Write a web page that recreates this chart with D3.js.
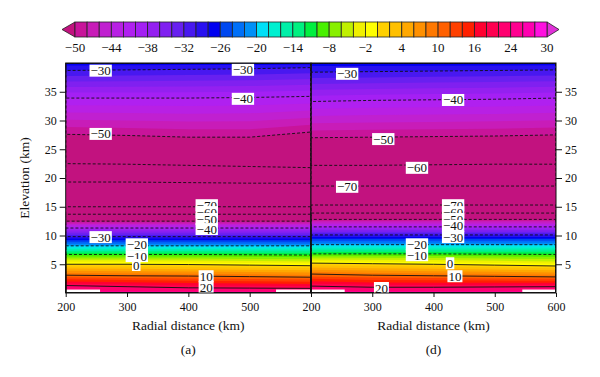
<!DOCTYPE html>
<html>
<head>
<meta charset="utf-8">
<script src="https://cdn.jsdelivr.net/npm/d3@7"></script>
<style>
  body { margin: 0; background: #fff; }
  text { font-family: "Liberation Serif", "DejaVu Serif", serif; fill: #111; }
</style>
</head>
<body>
<div id="chart"></div>
<script>

// colour bar: level boundaries, cell colours, labelled levels
var barLevels = [-50,-48,-46,-44,-42,-40,-38,-36,-34,-32,-30,-28,-26,-24,-22,-20,-18,-16,-14,-12,
                 -10,-8,-6,-4,-2,0,2,4,6,8,10,12,14,16,18,20,24,26,28,30];
var barColors = ["#c8149a","#c81cb8","#c020d0","#b820e4","#b020f0","#a420f4","#9420f0","#8020f0","#6820f0","#4818f0","#2810f0","#0000f0",
                 "#0048f0","#0070f8","#0090f8","#00e0f8","#00f0d0","#00f0a8","#00f080","#00f040","#48f000","#88f000","#c0f000","#f0f000","#ffff00","#ffd000",
                 "#ffc000","#ffa800","#ff9000","#ff7800","#ff6000","#ff4000","#ff2000","#ff0030","#ff0050","#ff0070","#ff0090","#ff00b0","#ff10e0"];
var underColor = "#c2127f", overColor = "#e030d8";
var barTicks = [-50,-44,-38,-32,-26,-20,-14,-8,-2,4,10,16,24,30];

// radial distance columns (km) and the temperature (deg C) of each isotherm row
var distances = [200, 300, 400, 500, 600];
var rowTemps = [26, 20, 10, 0, -10, -20, -30, -40, -50, -60, -70, -76, -70, -60, -50, -40, -30, -27];

// elevation (km) of each isotherm row at each distance column
var heightsA = [
  [0, 0, 0, 0, 0],
  [1.3, 1.1, 0.9, 0.85, 0.8],
  [3.1, 3.0, 2.95, 2.85, 2.75],
  [5.0, 5.0, 4.95, 4.85, 4.75],
  [6.7, 6.7, 6.7, 6.65, 6.6],
  [8.2, 8.2, 8.2, 8.2, 8.2],
  [9.8, 9.8, 9.8, 9.8, 9.8],
  [11.3, 11.3, 11.3, 11.3, 11.3],
  [12.5, 12.5, 12.5, 12.5, 12.5],
  [13.7, 13.7, 13.7, 13.7, 13.7],
  [15.0, 15.0, 15.0, 15.0, 15.0],
  [17.2, 17.2, 17.2, 17.2, 17.2],
  [19.3, 19.3, 19.2, 19.1, 19.1],
  [22.5, 22.4, 22.2, 22.0, 21.8],
  [27.6, 27.4, 27.1, 27.1, 28.0],
  [33.9, 33.9, 33.9, 34.0, 34.2],
  [38.7, 38.8, 38.9, 39.0, 39.2],
  [40, 40, 40, 40, 40]
];
var heightsD = [
  [0, 0, 0, 0, 0],
  [1.2, 1.0, 1.0, 1.05, 1.1],
  [3.3, 3.1, 3.0, 2.9, 2.8],
  [5.2, 5.1, 5.0, 4.85, 4.7],
  [6.8, 6.8, 6.8, 6.75, 6.7],
  [8.4, 8.4, 8.4, 8.4, 8.4],
  [10.1, 10.1, 10.1, 10.1, 10.1],
  [11.5, 11.5, 11.5, 11.5, 11.5],
  [12.8, 12.8, 12.8, 12.8, 12.8],
  [13.9, 13.9, 13.9, 13.9, 13.9],
  [15.3, 15.3, 15.3, 15.3, 15.3],
  [17.0, 17.0, 17.0, 17.0, 17.0],
  [18.6, 18.6, 18.6, 18.6, 18.6],
  [22.2, 22.2, 22.3, 22.4, 22.4],
  [27.0, 27.1, 27.2, 27.3, 27.5],
  [33.3, 33.5, 33.6, 33.7, 33.9],
  [38.4, 38.5, 38.6, 38.7, 38.8],
  [40, 40, 40, 40, 40]
];

// contour labels: [value, distance km, elevation km]
var labelsA = [[-30,257,38.7],[-30,489,38.85],[-40,489,33.8],[-50,257,27.7],
               [-70,430,15.3],[-60,430,14.1],[-50,430,12.9],[-40,430,11.15],[-30,257,9.75],
               [-20,316,8.5],[-10,316,6.45],[0,315,4.9],[10,429,2.95],[20,429,1.05]];
var labelsD = [[-30,259,38.15],[-40,432,33.6],[-50,318,26.8],[-60,373,21.8],[-70,259,18.5],
               [-70,432,15.3],[-60,432,14.1],[-50,432,12.9],[-40,432,11.7],[-30,432,9.75],
               [-20,373,8.5],[-10,373,6.6],[0,427,5.2],[10,435,2.95],[20,315,0.9]];

// areas below ground with no data: [from km, to km, top km]
var maskA = [[200, 256, 0.6], [543, 600, 0.6]];
var maskD = [[200, 255, 0.6], [545, 600, 0.6]];

var contourLevels = [-70, -60, -50, -40, -30, -20, -10, 0, 10, 20];
var xTicksA = [200, 300, 400, 500], xTicksD = [200, 300, 400, 500, 600];
var yTicks = [5, 10, 15, 20, 25, 30, 35];

var svg = d3.select("#chart").append("svg")
    .attr("width", 600)
    .attr("height", 377);

// colour bar
var cb = d3.scaleLinear().domain([0, barColors.length]).range([75, 547]);
svg.append("polygon")
    .attr("points", [[cb(0), 22], [62, 29.5], [cb(0), 37]].join(" "))
    .attr("fill", underColor).attr("stroke", "#222").attr("stroke-width", 0.8);
svg.append("polygon")
    .attr("points", [[cb(barColors.length), 22], [559, 29.5], [cb(barColors.length), 37]].join(" "))
    .attr("fill", overColor).attr("stroke", "#222").attr("stroke-width", 0.8);
svg.selectAll("rect.cell")
    .data(barColors)
    .enter()
    .append("rect")
    .attr("class", "cell")
    .attr("x", function(d, i) { return cb(i); })
    .attr("y", 22)
    .attr("width", cb(1) - cb(0))
    .attr("height", 15)
    .attr("fill", function(d) { return d; })
    .attr("stroke", "#222")
    .attr("stroke-width", 0.8);
svg.selectAll("text.cbl")
    .data(barTicks)
    .enter()
    .append("text")
    .attr("class", "cbl")
    .attr("x", function(d) { return cb(barLevels.indexOf(d)); })
    .attr("y", 52)
    .attr("text-anchor", "middle")
    .style("font-size", "13px")
    .text(function(d) { return String(d).replace("-", "\u2212"); });

var y = d3.scaleLinear().domain([0, 40]).range([293, 63]);

function drawPanel(id, x, heights, labels, mask, xTicks, side, letter) {
    var nx = distances.length, ny = rowTemps.length;
    var values = [];
    rowTemps.forEach(function(t) { distances.forEach(function() { values.push(t); }); });

    // grid coordinates -> screen, through the isotherm heights
    function toScreen(gx, gy) {
        var c = Math.max(0, Math.min(nx - 1, gx - 0.5));
        var r = Math.max(0, Math.min(ny - 1, gy - 0.5));
        var c0 = Math.min(Math.floor(c), nx - 2), fc = c - c0;
        var r0 = Math.min(Math.floor(r), ny - 2), fr = r - r0;
        var h = (1 - fr) * ((1 - fc) * heights[r0][c0] + fc * heights[r0][c0 + 1]) +
                fr * ((1 - fc) * heights[r0 + 1][c0] + fc * heights[r0 + 1][c0 + 1]);
        var d = distances[c0] + fc * (distances[c0 + 1] - distances[c0]);
        return [x(d), y(h)];
    }
    var path = d3.geoPath(d3.geoTransform({
        point: function(px, py) { var p = toScreen(px, py); this.stream.point(p[0], p[1]); }
    }));

    var clipId = "clip" + id;
    svg.append("clipPath").attr("id", clipId)
        .append("rect")
        .attr("x", x.range()[0]).attr("y", y(40))
        .attr("width", x.range()[1] - x.range()[0]).attr("height", y(0) - y(40));

    var g = svg.append("g").attr("clip-path", "url(#" + clipId + ")");

    // filled bands
    var fillLevels = [-1000].concat(barLevels);
    var bands = d3.contours().size([nx, ny]).thresholds(fillLevels)(values);
    g.selectAll("path.band")
        .data(bands)
        .enter()
        .append("path")
        .attr("d", path)
        .attr("fill", function(d, i) {
            if (i === 0) return underColor;
            return i - 1 < barColors.length ? barColors[i - 1] : overColor;
        });

    // no-data areas
    g.selectAll("rect.mask")
        .data(mask)
        .enter()
        .append("rect")
        .attr("x", function(d) { return x(d[0]); })
        .attr("width", function(d) { return x(d[1]) - x(d[0]); })
        .attr("y", function(d) { return y(d[2]); })
        .attr("height", function(d) { return y(0) - y(d[2]); })
        .attr("fill", "#fff");

    // contour lines
    var lines = d3.contours().size([nx, ny]).thresholds(contourLevels)(values);
    g.selectAll("path.line")
        .data(lines)
        .enter()
        .append("path")
        .attr("d", path)
        .attr("fill", "none")
        .attr("stroke", "#111")
        .attr("stroke-width", 0.9)
        .attr("stroke-dasharray", function(d) { return d.value < 0 ? "3,2" : null; });

    // contour labels
    var lab = g.selectAll("g.lab")
        .data(labels.slice().sort(function(a, b) { return b[2] - a[2]; }))
        .enter()
        .append("g")
        .attr("transform", function(d) { return "translate(" + x(d[1]) + "," + y(d[2]) + ")"; });
    lab.append("text")
        .attr("text-anchor", "middle")
        .attr("dy", "0.36em")
        .style("font-size", "13px")
        .text(function(d) { return String(d[0]).replace("-", "\u2212"); })
        .each(function() {
            var b = this.getBBox();
            d3.select(this.parentNode).insert("rect", "text")
                .attr("x", b.x - 1).attr("y", b.y + 1.5)
                .attr("width", b.width + 2).attr("height", b.height - 3)
                .attr("fill", "#fff");
        });

    // frame
    svg.append("rect")
        .attr("x", x.range()[0]).attr("y", y(40))
        .attr("width", x.range()[1] - x.range()[0]).attr("height", y(0) - y(40))
        .attr("fill", "none").attr("stroke", "#111").attr("stroke-width", 1);

    // axes
    var xa = svg.append("g")
        .attr("transform", "translate(0," + y(0) + ")")
        .call(d3.axisBottom(x).tickValues(xTicks).tickSize(4).tickPadding(5.5));
    var ya = svg.append("g")
        .attr("transform", "translate(" + (side === "left" ? x.range()[0] : x.range()[1]) + ",0)")
        .call((side === "left" ? d3.axisLeft(y) : d3.axisRight(y)).tickValues(yTicks).tickSize(6).tickPadding(3));
    [xa, ya].forEach(function(a) {
        a.select(".domain").remove();
        a.selectAll("line").attr("stroke", "#111");
        a.selectAll("text").style("font-size", "12px").style("font-family", "Liberation Serif");
    });

    var cx = (x.range()[0] + x.range()[1]) / 2;
    svg.append("text")
        .attr("x", cx).attr("y", 330)
        .attr("text-anchor", "middle")
        .style("font-size", "13.5px")
        .text("Radial distance (km)");
    svg.append("text")
        .attr("x", cx).attr("y", 354)
        .attr("text-anchor", "middle")
        .style("font-size", "13.5px")
        .text("(" + letter + ")");
}

var xA = d3.scaleLinear().domain([200, 600]).range([65.7, 311]);
var xD = d3.scaleLinear().domain([200, 600]).range([311, 556]);
drawPanel("A", xA, heightsA, labelsA, maskA, xTicksA, "left", "a");
drawPanel("D", xD, heightsD, labelsD, maskD, xTicksD, "right", "d");

svg.append("text")
    .attr("transform", "translate(29," + y(20) + ") rotate(-90)")
    .attr("text-anchor", "middle")
    .style("font-size", "13.5px")
    .text("Elevation (km)");

</script>
</body>
</html>
